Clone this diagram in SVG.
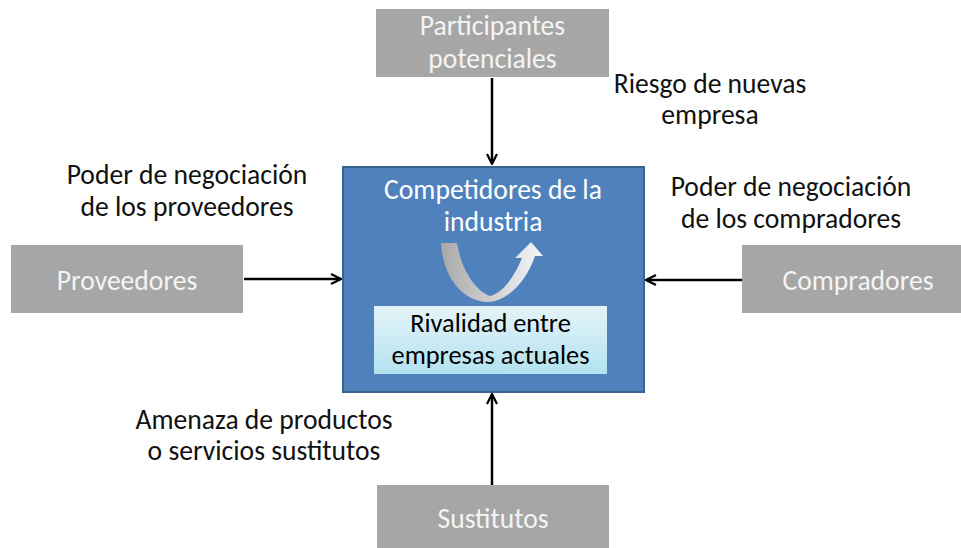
<svg xmlns="http://www.w3.org/2000/svg" width="961" height="548" viewBox="0 0 961 548">
<style>
text{font-family:Carlito,"Open Sans",Lato,"Liberation Sans",sans-serif;font-size:27.6px;text-anchor:middle}
.gbox{fill:#a6a6a6}
.gtxt{fill:#f4f4f4}
.lbl{fill:#111}
.inn{fill:#000;font-size:26.4px}
.conn{stroke:#000;stroke-width:2.5;fill:none;marker-end:url(#ah)}
</style>
<defs>
<marker id="ah" viewBox="0 0 12 12" refX="11" refY="6" markerWidth="12" markerHeight="12" markerUnits="userSpaceOnUse" orient="auto">
<path d="M1,1 L11,6 L1,11" fill="none" stroke="#000" stroke-width="2.2"/>
</marker>
<linearGradient id="inner" x1="0" y1="0" x2="0" y2="1">
<stop offset="0" stop-color="#e4f3f8"/>
<stop offset="1" stop-color="#b3e2f0"/>
</linearGradient>
<linearGradient id="ua" x1="0" y1="0" x2="1" y2="0">
<stop offset="0" stop-color="#a8a8a8"/>
<stop offset="0.5" stop-color="#d0d0d0"/>
<stop offset="1" stop-color="#f4f6f8"/>
</linearGradient>
</defs>
<rect width="961" height="548" fill="#fff"/>

<g id="connectors">
<line class="conn" x1="492" y1="78" x2="492" y2="164"/>
<line class="conn" x1="244" y1="279" x2="341" y2="279"/>
<line class="conn" x1="742" y1="280" x2="646" y2="280"/>
<line class="conn" x1="492" y1="485" x2="492" y2="394"/>
</g>

<g id="participantes">
<rect class="gbox" x="376" y="9" width="233" height="68"/>
<text class="gtxt" x="492.5" y="35">Participantes</text>
<text class="gtxt" x="492.5" y="68">potenciales</text>
</g>

<g id="proveedores">
<rect class="gbox" x="11" y="245" width="232" height="68"/>
<text class="gtxt" x="127" y="290">Proveedores</text>
</g>

<g id="compradores">
<rect class="gbox" x="742" y="245" width="233" height="68"/>
<text class="gtxt" x="858" y="290">Compradores</text>
</g>

<g id="sustitutos">
<rect class="gbox" x="377" y="485" width="232" height="70"/>
<text class="gtxt" x="493" y="528">Sustitutos</text>
</g>

<g id="competidores">
<rect x="343" y="167" width="301" height="225" fill="#4f81bd" stroke="#3a6392" stroke-width="2"/>
<text x="493" y="199" fill="#fff">Competidores de la</text>
<text x="493" y="231" fill="#fff">industria</text>
<path d="M441,243 C443,278 463,301 487,302 C505,302 525,285 535,256 L543,256 L531,242 L515,258 L522,258 C514,278 502,293 490,296 C474,290 461,268 457,243 Z" fill="url(#ua)"/>
<rect x="374" y="306" width="233" height="68" fill="url(#inner)"/>
<text class="inn" x="490.5" y="332">Rivalidad entre</text>
<text class="inn" x="490.5" y="364">empresas actuales</text>
</g>

<g id="labels">
<text class="lbl" x="710" y="93">Riesgo de nuevas</text>
<text class="lbl" x="710" y="124">empresa</text>
<text class="lbl" x="187" y="184">Poder de negociación</text>
<text class="lbl" x="187" y="216">de los proveedores</text>
<text class="lbl" x="791" y="196">Poder de negociación</text>
<text class="lbl" x="791" y="228">de los compradores</text>
<text class="lbl" x="264" y="429">Amenaza de productos</text>
<text class="lbl" x="264" y="460">o servicios sustitutos</text>
</g>
</svg>
